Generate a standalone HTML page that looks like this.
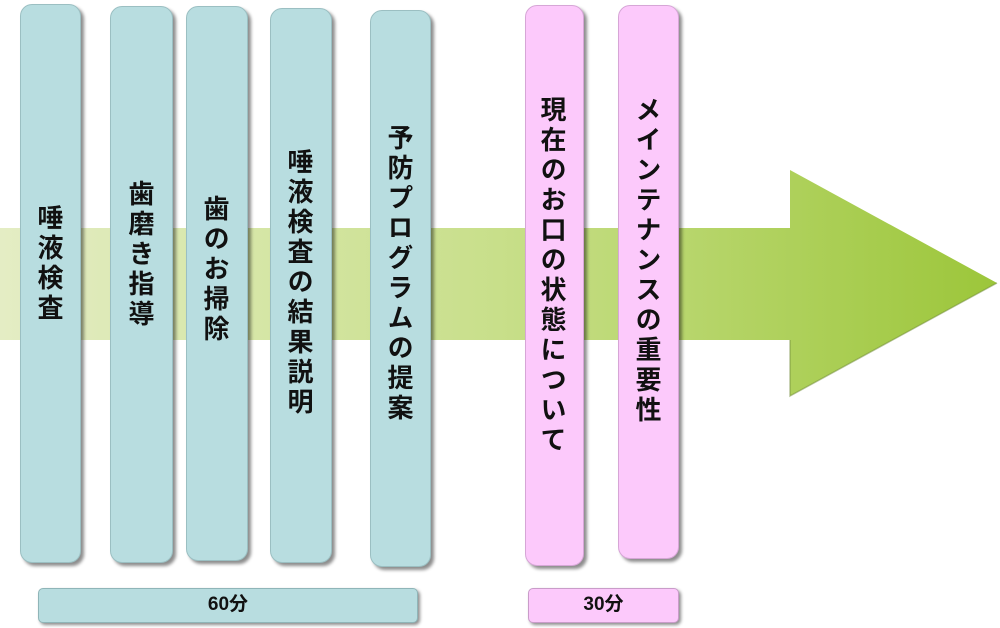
<!DOCTYPE html>
<html><head><meta charset="utf-8"><style>
body{margin:0;width:1000px;height:628px;background:#fff;position:relative;overflow:hidden;font-family:"Liberation Sans","Noto Sans CJK JP",sans-serif;}
.bar{position:absolute;border-radius:12px;box-shadow:3px 3px 3px rgba(0,0,0,0.45);border:1px solid #9bbfc2;}
.t{background:#b8dde0;}
.p{background:#fcc9fb;border-color:#d6a6d6;}
.tx{position:absolute;writing-mode:vertical-rl;font-size:26px;font-weight:bold;letter-spacing:4px;color:#111;line-height:1;}
.lab{position:absolute;font-size:19px;font-weight:bold;text-align:center;line-height:32px;color:#111;border-radius:5px;box-shadow:2px 2px 3px rgba(0,0,0,0.45);}
</style></head><body>
<svg width="1000" height="628" style="position:absolute;left:0;top:0">
<defs><linearGradient id="g" x1="0" x2="1"><stop offset="0" stop-color="#e4edc4"/><stop offset="0.5" stop-color="#c8df8a"/><stop offset="1" stop-color="#9cc63a"/></linearGradient></defs>
<polygon points="0,228 790,228 790,170 997,283 790,396 790,340 0,340" fill="url(#g)"/>
<polyline points="790,340 790,396 997,283" fill="none" stroke="#6f8a3a" stroke-width="1.5" opacity="0.5"/>
</svg>
<div class="bar t" style="left:20px;top:4px;width:59px;height:557px"></div>
<div class="bar t" style="left:110px;top:6px;width:61px;height:555px"></div>
<div class="bar t" style="left:186px;top:6px;width:60px;height:553px"></div>
<div class="bar t" style="left:270px;top:8px;width:60px;height:553px"></div>
<div class="bar t" style="left:370px;top:10px;width:59px;height:555px"></div>
<div class="bar p" style="left:525px;top:5px;width:57px;height:559px"></div>
<div class="bar p" style="left:618px;top:5px;width:59px;height:552px"></div>
<div class="tx" style="left:36px;top:204px">唾液検査</div>
<div class="tx" style="left:127px;top:180px">歯磨き指導</div>
<div class="tx" style="left:202px;top:195px">歯のお掃除</div>
<div class="tx" style="left:286px;top:148px">唾液検査の結果説明</div>
<div class="tx" style="left:386px;top:124px">予防プログラムの提案</div>
<div class="tx" style="left:539px;top:96px">現在のお口の状態について</div>
<div class="tx" style="left:634px;top:96px">メインテナンスの重要性</div>
<div class="lab" style="left:38px;top:588px;width:378px;height:33px;background:#b8dde0;border:1px solid #8fb5b8">60分</div>
<div class="lab" style="left:528px;top:588px;width:149px;height:33px;background:#fcc9fb;border:1px solid #c99cc9">30分</div>
</body></html>
